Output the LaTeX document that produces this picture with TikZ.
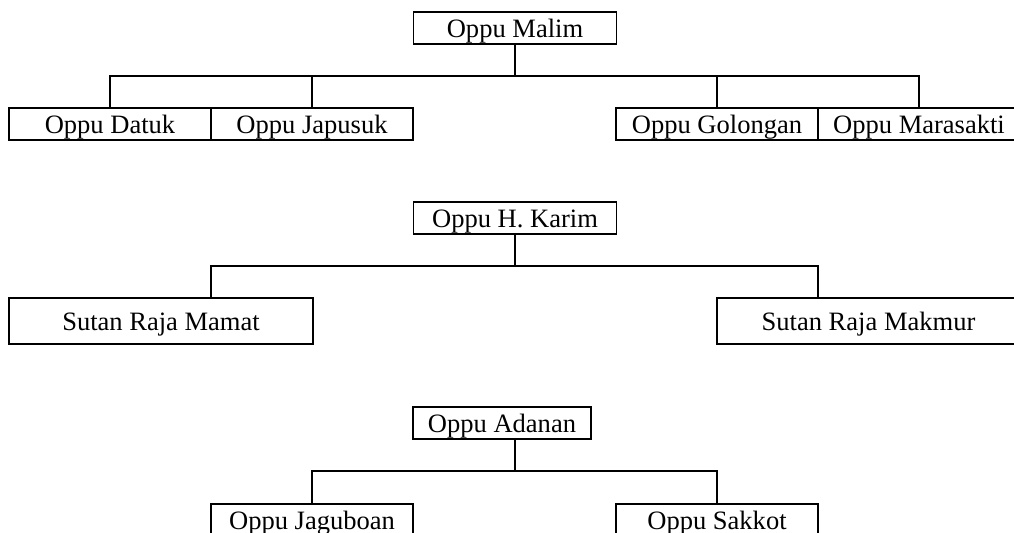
\documentclass[tikz,border=0pt]{standalone}
\usepackage{fontspec}
\setmainfont{Liberation Serif}
\usetikzlibrary{calc}
\tikzset{
  box/.style={draw, line width=1.3pt, rectangle, inner sep=0pt, outer sep=0pt,
    minimum height=24pt, minimum width=151.5pt,
    font=\fontsize{19.9pt}{24pt}\selectfont, text height=14.6pt, text depth=0pt},
  conn/.style={line width=1.3pt}
}
\begin{document}
\begin{tikzpicture}[x=0.75pt,y=-0.75pt]
\useasboundingbox (0,0) rectangle (1014,532);
\clip (0,0) rectangle (1014,532);
% group 1
\node[box, minimum width=152.25pt] (malim) at (515,28) {Oppu Malim};
\node[box] (datuk) at (110,124) {Oppu Datuk};
\node[box] (japusuk) at (312,124) {Oppu Japusuk};
\node[box] (golongan) at (717,124) {Oppu Golongan};
\node[box] (marasakti) at (919,124) {Oppu Marasakti};
\coordinate (bus1) at (515,76);
\draw[conn] (malim.south) -- (bus1);
\draw[conn] (datuk.north) -- (datuk.north |- bus1) -- (marasakti.north |- bus1) -- (marasakti.north);
\draw[conn] (japusuk.north) -- (japusuk.north |- bus1);
\draw[conn] (golongan.north) -- (golongan.north |- bus1);
% group 2
\node[box, minimum width=152.25pt] (karim) at (515,218) {Oppu H. Karim};
\node[box, minimum width=228pt, minimum height=34.5pt] (mamat) at (161,321) {Sutan Raja Mamat};
\node[box, minimum width=227.25pt, minimum height=34.5pt] (makmur) at (868.5,321) {Sutan Raja Makmur};
\coordinate (bus2) at (515,266);
\coordinate (mamatdrop) at ($(mamat.north west)+(202,0)$);
\coordinate (makmurdrop) at ($(makmur.north west)+(101,0)$);
\draw[conn] (karim.south) -- (bus2);
\draw[conn] (mamatdrop) -- (mamatdrop |- bus2) -- (makmurdrop |- bus2) -- (makmurdrop);
% group 3
\node[box, minimum width=133.5pt] (adanan) at (502,423) {Oppu Adanan};
\node[box] (jaguboan) at (312,520) {Oppu Jaguboan};
\node[box] (sakkot) at (717,520) {Oppu Sakkot};
\coordinate (adrop) at ($(adanan.south)+(13,0)$);
\coordinate (bus3) at (515,471);
\draw[conn] (adrop) -- (bus3);
\draw[conn] (jaguboan.north) |- (bus3) -| (sakkot.north);
\end{tikzpicture}
\end{document}
